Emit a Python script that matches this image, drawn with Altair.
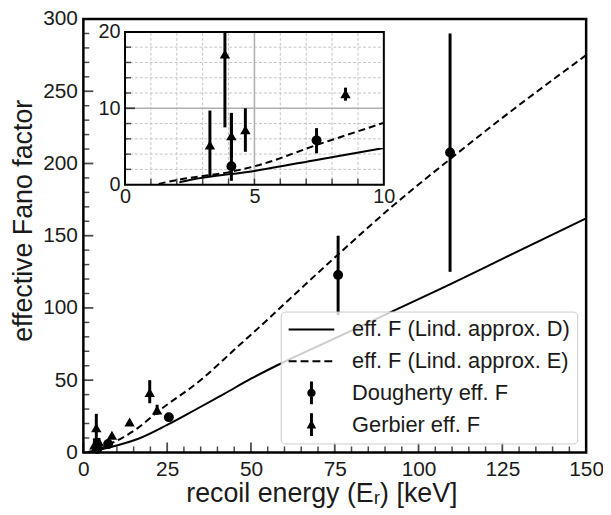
import altair as alt
import pandas as pd

# ---------------- data ----------------
# effective Fano factor curves
d_x = [2.1, 2.5, 5, 7.5, 10, 16.6, 25, 33, 42, 50, 58, 76, 92.5, 110, 125, 150]
d_y = [0.3, 0.6, 1.8, 3.3, 4.8, 9.6, 19, 29, 40.5, 51, 60.5, 80, 98, 117, 134, 162]
e_x = [1.3, 2, 4.1, 5, 7.5, 10, 16.6, 22, 35.3, 45, 55, 61, 76, 92, 109.4, 123, 150]
e_y = [0.1, 0.6, 1.7, 2.4, 5.3, 8.1, 17.5, 27.8, 50.6, 71, 92, 105, 137, 170, 203, 228, 275]

# Dougherty eff. F
dou_x = [4.11, 7.4, 25.5, 76.0, 109.4]
dou_y = [2.4, 5.8, 24.4, 122.8, 207.6]
dou_lo = [0.5, 4.1, 22.5, 95, 125]
dou_hi = [9.4, 7.4, 26.5, 150, 290]

# Gerbier eff. F
ger_x = [3.28, 3.86, 4.11, 4.65, 8.52, 13.8, 19.8, 22.0]
ger_y = [5.2, 17.1, 6.4, 7.2, 11.9, 21.0, 41.5, 29.4]
ger_lo = [1.0, 7.5, 3.5, 4.3, 11.0, 20.0, 34.0, 26.0]
ger_hi = [9.7, 26.7, 9.3, 10.0, 12.7, 22.0, 50.0, 33.0]

legend_labels = ["eff. F (Lind. approx. D)", "eff. F (Lind. approx. E)",
                 "Dougherty eff. F", "Gerbier eff. F"]

# tick positions
main_x_major = [0, 25, 50, 75, 100, 125, 150]
main_x_minor = [v for v in range(0, 151, 5) if v % 25]
main_y_major = [0, 50, 100, 150, 200, 250, 300]
main_y_minor = [v for v in range(0, 301, 10) if v % 50]
inset_x_labels = [0, 5, 10]
inset_y_labels = [0, 10, 20]
inset_x_minor = [1, 2, 3, 4, 6, 7, 8, 9]
inset_y_minor = [2, 4, 6, 8, 12, 14, 16, 18]
inset_x_major = [5]
inset_y_major = [10]

# ---------------- tables ----------------
D = pd.DataFrame({"x": d_x, "y": d_y})
E = pd.DataFrame({"x": e_x, "y": e_y})
DOU = pd.DataFrame({"x": dou_x, "y": dou_y, "lo": dou_lo, "hi": dou_hi})
GER = pd.DataFrame({"x": ger_x, "y": ger_y, "lo": ger_lo, "hi": ger_hi})

W, H = 507, 437
TXT = "#1a1a1a"

xs_main = alt.Scale(domain=[0, 150], nice=False)
ys_main = alt.Scale(domain=[0, 300], nice=False)
X_TITLE = "recoil energy (Eᵣ) [keV]"
Y_TITLE = "effective Fano factor"

x_axis_main = alt.Axis(values=main_x_major, ticks=False, domain=False, grid=False,
                       labelFontSize=21, labelPadding=6, labelFlush=False,
                       titleFontSize=27, titlePadding=2, titleX=240, labelColor=TXT, titleColor=TXT,
                       titleFontWeight="normal")
y_axis_main = alt.Axis(values=main_y_major, ticks=False, domain=False, grid=False,
                       labelFontSize=21, labelPadding=6, labelFlush=False,
                       titleFontSize=27, titlePadding=5, titleY=203, labelColor=TXT, titleColor=TXT,
                       titleFontWeight="normal")


def XM(field="x"):
    return alt.X(f"{field}:Q", scale=xs_main, axis=x_axis_main, title=X_TITLE)


def YM(field="y"):
    return alt.Y(f"{field}:Q", scale=ys_main, axis=y_axis_main, title=Y_TITLE)


# ---------------- main panel ----------------
line_d = alt.Chart(D).mark_line(color="black", strokeWidth=2, interpolate="monotone").encode(x=XM(), y=YM())
line_e = alt.Chart(E).mark_line(color="black", strokeWidth=2, strokeDash=[7, 4],
                                 interpolate="monotone").encode(x=XM(), y=YM())
err_dou = alt.Chart(DOU).mark_rule(color="black", strokeWidth=3).encode(x=XM(), y=YM("lo"), y2="hi:Q")
err_ger = alt.Chart(GER).mark_rule(color="black", strokeWidth=3).encode(x=XM(), y=YM("lo"), y2="hi:Q")
pts_dou = alt.Chart(DOU).mark_point(shape="circle", filled=True, color="black", size=100,
                                    opacity=1).encode(x=XM(), y=YM())
pts_ger = alt.Chart(GER).mark_point(shape="triangle-up", filled=True, color="black", size=110,
                                    opacity=1).encode(x=XM(), y=YM())

tick_xM = alt.Chart(pd.DataFrame({"x": main_x_major})).mark_tick(
    orient="vertical", size=10, thickness=1.8, yOffset=-5, color="black").encode(x=XM(), y=alt.YDatum(0))
tick_xm = alt.Chart(pd.DataFrame({"x": main_x_minor})).mark_tick(
    orient="vertical", size=6, thickness=1.5, yOffset=-3, color="black").encode(x=XM(), y=alt.YDatum(0))
tick_yM = alt.Chart(pd.DataFrame({"y": main_y_major})).mark_tick(
    orient="horizontal", size=10, thickness=1.8, xOffset=5, color="black").encode(y=YM(), x=alt.XDatum(0))
tick_ym = alt.Chart(pd.DataFrame({"y": main_y_minor})).mark_tick(
    orient="horizontal", size=6, thickness=1.5, xOffset=3, color="black").encode(y=YM(), x=alt.XDatum(0))

# legend: filled custom symbol paths (line, dashed line, marker with error bar)
sym_paths = [
    "M-1,-0.1H3.6V0.1H-1Z",
    "M-1,-0.1H-0.2V0.1H-1ZM0.2,-0.1H1.0V0.1H0.2ZM1.4,-0.1H2.2V0.1H1.4ZM2.6,-0.1H3.4V0.1H2.6Z",
    "M1.15,-1.15H1.45V1.15H1.15ZM1.72,0A0.42,0.42 0 1 1 0.88,0A0.42,0.42 0 1 1 1.72,0Z",
    "M1.15,-1.15H1.45V1.15H1.15ZM1.3,-0.52L1.78,0.4L0.82,0.4Z",
]
legend_layer = alt.Chart(pd.DataFrame({"label": legend_labels})).transform_filter(
    "false").mark_point(filled=True, color="black", opacity=1).encode(
    shape=alt.Shape("label:N", scale=alt.Scale(domain=legend_labels, range=sym_paths),
                    legend=alt.Legend(title=None, orient="bottom-right", offset=9,
                                      symbolSize=400, symbolStrokeWidth=0,
                                      symbolFillColor="black",
                                      symbolOpacity=1, labelFontSize=22, labelColor=TXT,
                                      labelOffset=43, rowPadding=8, padding=7, gridAlign="all",
                                      fillColor="rgba(255,255,255,0.8)", strokeColor="#cccccc",
                                      cornerRadius=4, labelLimit=400)))

main = alt.layer(line_d, line_e, err_dou, err_ger, pts_dou, pts_ger,
                 tick_xM, tick_xm, tick_yM, tick_ym, legend_layer)

# ---------------- inset panel ----------------
IN_TOP, IN_BOT = 13, 167
xs_in = alt.Scale(domain=[0, 10], range=[42, 303], nice=False)
ys_in = alt.Scale(domain=[0, 20], range=[IN_BOT, IN_TOP], nice=False, clamp=True)
x_axis_in = alt.Axis(orient="bottom", offset=IN_BOT - H, values=inset_x_labels, ticks=False, domain=False,
                     grid=False, labelFontSize=20, labelPadding=2, labelFlush=False, labelColor=TXT)
y_axis_in = alt.Axis(orient="left", offset=-42, values=inset_y_labels, ticks=False, domain=False,
                     grid=False, labelFontSize=20, labelPadding=5, labelFlush=False, labelColor=TXT)


def XI(field="x"):
    return alt.X(f"{field}:Q", scale=xs_in, axis=x_axis_in, title=None)


def YI(field="y"):
    return alt.Y(f"{field}:Q", scale=ys_in, axis=y_axis_in, title=None)


one = pd.DataFrame({"k": [0]})
bg = alt.Chart(one).mark_rect(fill="white", stroke=None).encode(
    x=alt.XDatum(0, scale=xs_in, axis=x_axis_in, title=None), x2=alt.X2Datum(10),
    y=alt.YDatum(0, scale=ys_in, axis=y_axis_in, title=None), y2=alt.Y2Datum(20))
gx_min = alt.Chart(pd.DataFrame({"x": inset_x_minor})).mark_rule(
    color="#c4c4c4", strokeWidth=1, strokeDash=[3, 2]).encode(x=XI(), y=alt.YDatum(0), y2=alt.Y2Datum(20))
gy_min = alt.Chart(pd.DataFrame({"y": inset_y_minor})).mark_rule(
    color="#c4c4c4", strokeWidth=1, strokeDash=[3, 2]).encode(y=YI(), x=alt.XDatum(0), x2=alt.X2Datum(10))
gx_maj = alt.Chart(pd.DataFrame({"x": inset_x_major})).mark_rule(
    color="#b0b0b0", strokeWidth=1.6).encode(x=XI(), y=alt.YDatum(0), y2=alt.Y2Datum(20))
gy_maj = alt.Chart(pd.DataFrame({"y": inset_y_major})).mark_rule(
    color="#b0b0b0", strokeWidth=1.6).encode(y=YI(), x=alt.XDatum(0), x2=alt.X2Datum(10))

in_d = alt.Chart(D).transform_filter("datum.x <= 10").mark_line(
    color="black", strokeWidth=2, interpolate="monotone").encode(x=XI(), y=YI())
in_e = alt.Chart(E).transform_filter("datum.x <= 10").mark_line(
    color="black", strokeWidth=2, strokeDash=[7, 4], interpolate="monotone").encode(x=XI(), y=YI())
in_err_dou = alt.Chart(DOU).transform_filter("datum.x <= 10").mark_rule(
    color="black", strokeWidth=3).encode(x=XI(), y=YI("lo"), y2="hi:Q")
in_err_ger = alt.Chart(GER).transform_filter("datum.x <= 10").mark_rule(
    color="black", strokeWidth=3).encode(x=XI(), y=YI("lo"), y2="hi:Q")
in_pts_dou = alt.Chart(DOU).transform_filter("datum.x <= 10").mark_point(
    shape="circle", filled=True, color="black", size=100, opacity=1).encode(x=XI(), y=YI())
in_pts_ger = alt.Chart(GER).transform_filter("datum.x <= 10").mark_point(
    shape="triangle-up", filled=True, color="black", size=110, opacity=1).encode(x=XI(), y=YI())

in_tx = alt.Chart(pd.DataFrame({"x": inset_x_minor + inset_x_major})).mark_tick(
    orient="vertical", size=6, thickness=1.5, yOffset=-3, color="black").encode(x=XI(), y=alt.YDatum(0))
in_ty = alt.Chart(pd.DataFrame({"y": inset_y_minor})).mark_tick(
    orient="horizontal", size=6, thickness=1.5, xOffset=3, color="black").encode(y=YI(), x=alt.XDatum(0))
in_tyM = alt.Chart(pd.DataFrame({"y": inset_y_major})).mark_tick(
    orient="horizontal", size=10, thickness=1.8, xOffset=5, color="black").encode(y=YI(), x=alt.XDatum(0))
frame = alt.Chart(one).mark_rect(fill=None, stroke="black", strokeWidth=2).encode(
    x=alt.XDatum(0), x2=alt.X2Datum(10), y=alt.YDatum(0), y2=alt.Y2Datum(20))

inset = alt.layer(bg, gx_min, gy_min, gx_maj, gy_maj, in_d, in_e, in_err_dou, in_err_ger,
                  in_pts_dou, in_pts_ger, in_tx, in_ty, in_tyM, frame)

chart = alt.layer(main, inset).resolve_scale(x="independent", y="independent").properties(
    width=W, height=H,
    autosize=alt.AutoSizeParams(type="none"),
    padding={"left": 76, "top": 9, "right": 17, "bottom": 60},
).configure(font="Liberation Sans").configure_view(stroke="black", strokeWidth=2.5)

chart.save("out.html", embed_options={"renderer": "svg", "actions": False})
